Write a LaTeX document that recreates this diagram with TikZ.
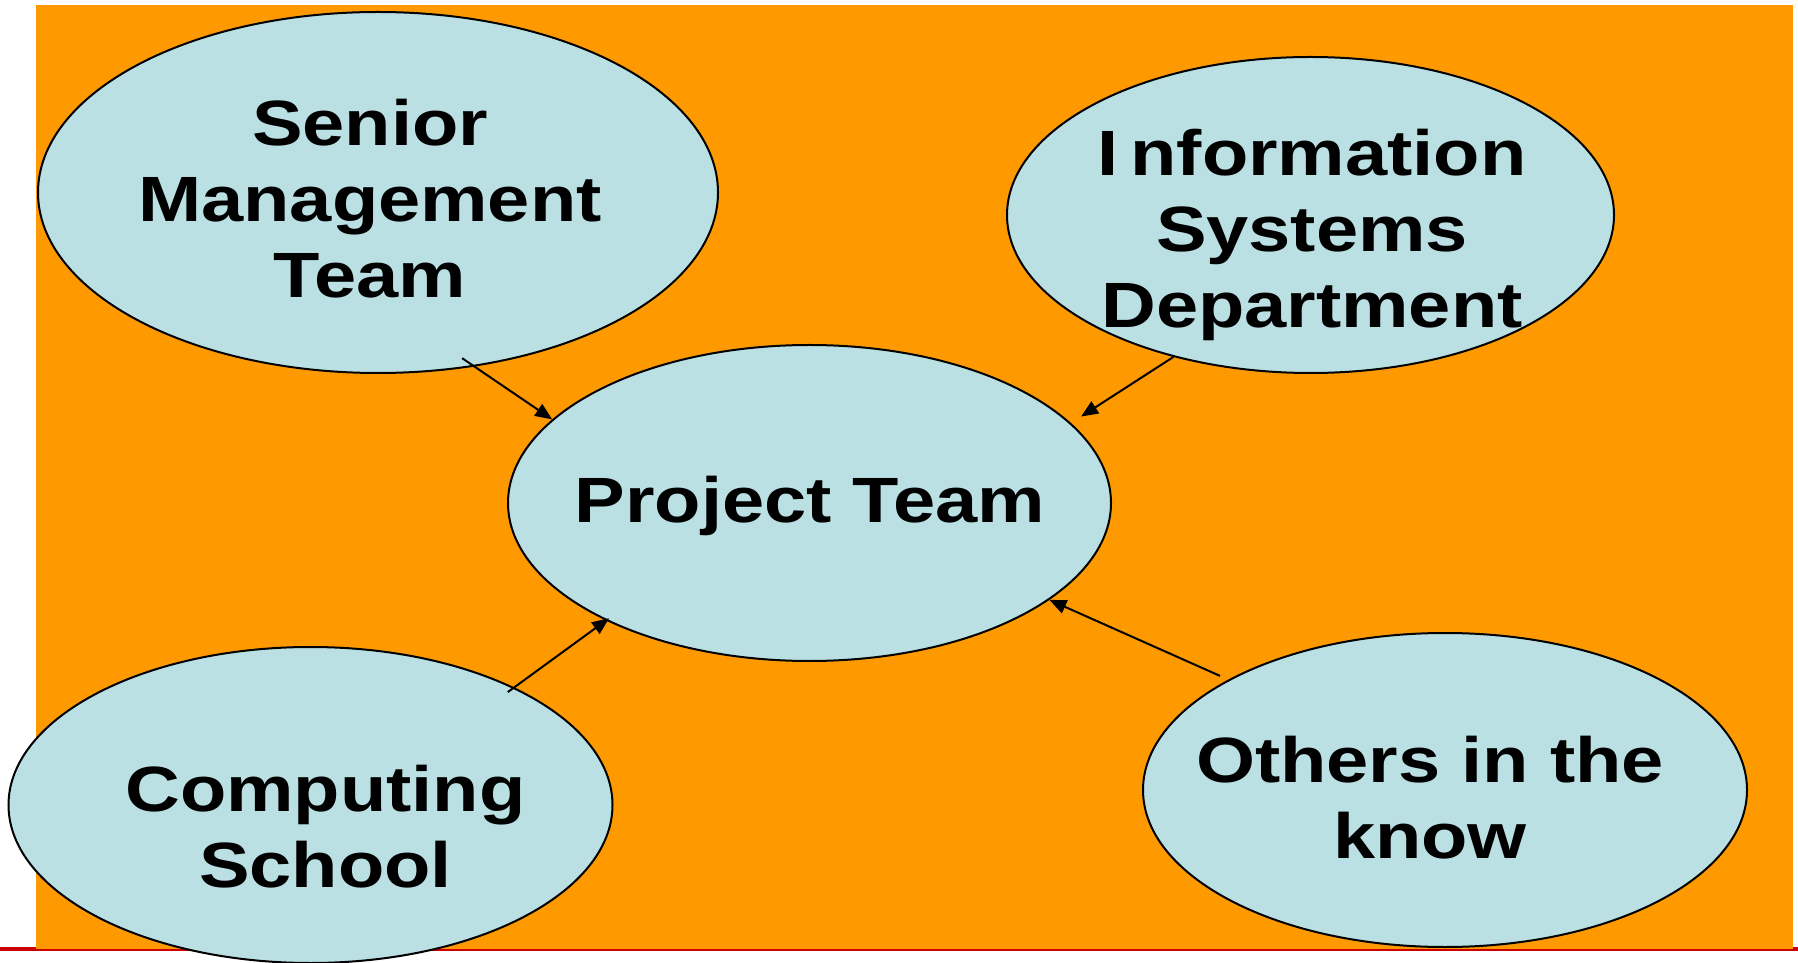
\documentclass[tikz,border=0pt]{standalone}
\usepackage{fontspec}
\setmainfont{Liberation Sans}[FakeStretch=1.185]
\usetikzlibrary{shapes.geometric,arrows.meta}
\definecolor{bgorange}{HTML}{FF9900}
\definecolor{bubble}{HTML}{BBE0E3}
\definecolor{rule}{HTML}{CC0000}
\tikzset{
  bubble/.style={ellipse, draw=black, line width=2pt, fill=bubble, inner sep=0pt},
  label/.style={anchor=base, inner sep=0pt, font=\fontsize{64}{76}\selectfont\bfseries},
  arr/.style={-{Triangle[length=17pt,width=14pt]}, line width=2pt, draw=black}
}
\newcommand{\lines}[1]{\begin{tabular}[b]{@{}c@{}}#1\end{tabular}}
\begin{document}
\begin{tikzpicture}[x=1pt,y=1pt]
\useasboundingbox (0,0) rectangle (1798,962);
% red rule and orange panel
\fill[rule] (0,11) rectangle (1798,15);
\fill[bgorange] (36,13) rectangle (1793,957);
% bubbles
\node[bubble, minimum width=680pt, minimum height=361pt] (senior) at (378,769.5) {};
\node[bubble, minimum width=607pt, minimum height=316pt] (info) at (1310.5,747) {};
\node[bubble, minimum width=603pt, minimum height=316pt] (proj) at (809.5,459) {};
\node[bubble, minimum width=604pt, minimum height=316pt] (comp) at (310.5,157) {};
\node[bubble, minimum width=604pt, minimum height=314pt] (others) at (1445,172) {};
% texts
\node[label] (seniort) at (370,664) {\lines{Senior\\Management\\Team}};
\node[label] (infot) at (1312,634) {\lines{I\kern12pt nformation\\Systems\\Department}};
\node[label] (projt) at (810,439) {Project Team};
\node[label] (compt) at (325.5,75) {\lines{Computing\\School}};
\node[label] (otherst) at (1430,104) {\lines{Others in the\\know}};
% connectors
\draw[arr, shorten <=-15pt] (senior.-61) -- (proj.162);
\draw[arr, shorten >=12pt] (info.226) -- (proj.17);
\draw[arr, shorten <=-8pt, shorten >=-4pt] (comp.30) -- (proj.210);
\draw[arr, shorten <=9pt] (others.153) -- (proj.-22);
\end{tikzpicture}
\end{document}
